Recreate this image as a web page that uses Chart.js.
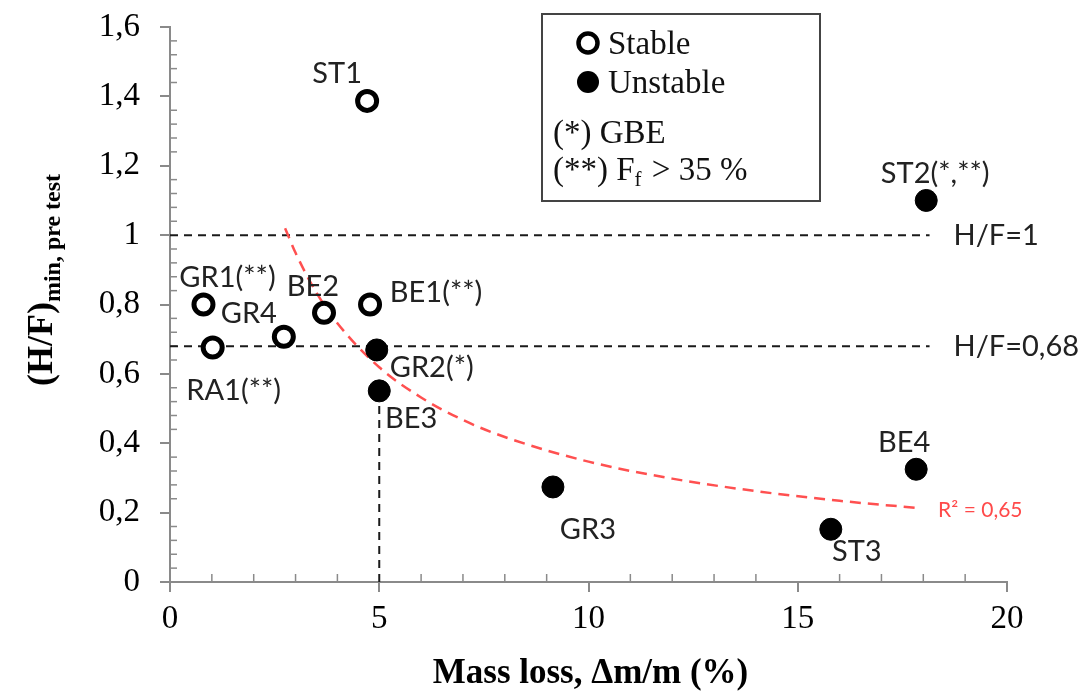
<!DOCTYPE html>
<html>
<head>
<meta charset="utf-8">
<script src="https://cdn.jsdelivr.net/npm/chart.js@4.4.0/dist/chart.umd.min.js"></script>
<style>
  html, body { margin: 0; padding: 0; background: #fff; }
</style>
</head>
<body>
<canvas id="chart" width="1079" height="697"></canvas>
<script>
// stable specimens (open circles)
const stableNames = ['ST1', 'GR1(**)', 'GR4', 'BE2', 'BE1(**)', 'RA1(**)'];
const stableMassLoss = [4.71, 0.80, 2.72, 3.68, 4.78, 1.02];
const stableHF = [1.387, 0.800, 0.707, 0.776, 0.800, 0.676];

// unstable specimens (filled circles)
const unstableNames = ['ST2(*,**)', 'GR2(*)', 'BE3', 'GR3', 'BE4', 'ST3'];
const unstableMassLoss = [18.07, 4.94, 5.00, 9.15, 17.83, 15.79];
const unstableHF = [1.100, 0.669, 0.551, 0.274, 0.325, 0.152];

// red dashed trend curve
const trendMassLoss = [2.75, 3, 3.5, 4, 5, 6, 7, 8, 10, 12, 14, 16, 17.9];
const trendHF = [1.02, 0.949, 0.834, 0.746, 0.619, 0.532, 0.467, 0.418, 0.347, 0.298, 0.262, 0.234, 0.213];
const trendLabel = 'R² = 0,65';

// reference lines
const hfLevels = [1, 0.68];
const hfLabels = ['H/F=1', 'H/F=0,68'];
const hfLineEnd = 18.15;
const massLossLimit = 5;

const yTickLabels = ['0', '0,2', '0,4', '0,6', '0,8', '1', '1,2', '1,4', '1,6'];

// label offsets (px) from each marker
const labelOffsets = {
  'ST1': [-30, -27], 'GR1(**)': [24, -27], 'GR4': [-35, -23], 'BE2': [-11, -26],
  'BE1(**)': [66, -12], 'RA1(**)': [21, 43], 'ST2(*,**)': [9, -27], 'GR2(*)': [55, 18],
  'BE3': [32, 28], 'GR3': [35, 43], 'BE4': [-12, -27], 'ST3': [26, 22]
};

const toPoints = (xs, ys) => xs.map((x, i) => ({ x: x, y: ys[i] }));
const AXIS = '#8a8a8a';
const SERIF = '"Liberation Serif", "Times New Roman", serif';
const SANS = 'Lato, "Open Sans", sans-serif';

const dashLine = (pts) => ({
  type: 'line', data: pts, borderColor: '#1a1a1a', borderWidth: 2, borderDash: [8, 6],
  pointRadius: 0, fill: false, order: 3
});

const datasets = [
  {
    type: 'scatter', label: 'Stable', names: stableNames,
    data: toPoints(stableMassLoss, stableHF),
    pointRadius: 9.5, borderWidth: 5, borderColor: '#000', backgroundColor: '#fff', order: 0
  },
  {
    type: 'scatter', label: 'Unstable', names: unstableNames,
    data: toPoints(unstableMassLoss, unstableHF),
    pointRadius: 11, borderWidth: 1, borderColor: '#000', backgroundColor: '#000', order: 0
  },
  {
    type: 'line', label: 'trend', data: toPoints(trendMassLoss, trendHF),
    borderColor: '#ff5050', borderWidth: 2.5, borderDash: [11, 7], pointRadius: 0,
    cubicInterpolationMode: 'monotone', fill: false, order: 2
  }
];
hfLevels.forEach(lvl => datasets.push(dashLine([{ x: 0, y: lvl }, { x: hfLineEnd, y: lvl }])));
datasets.push(dashLine([{ x: massLossLimit, y: 0 }, { x: massLossLimit, y: unstableHF[2] }]));

const extras = {
  id: 'extras',
  beforeDatasetsDraw(chart) {
    const ctx = chart.ctx;
    const xs = chart.scales.x, ys = chart.scales.y;
    ctx.save();
    ctx.strokeStyle = AXIS;
    ctx.lineWidth = 1.5;
    // minor ticks inside the plot
    for (let v = 1; v < 20; v++) {
      if (v % 5 === 0) continue;
      const px = xs.getPixelForValue(v);
      ctx.beginPath();
      ctx.moveTo(px, ys.bottom);
      ctx.lineTo(px, ys.bottom - 8);
      ctx.stroke();
    }
    for (let k = 1; k < 40; k++) {
      if (k % 5 === 0) continue;
      const py = ys.getPixelForValue(k * 0.04);
      ctx.beginPath();
      ctx.moveTo(xs.left, py);
      ctx.lineTo(xs.left + 7, py);
      ctx.stroke();
    }
    ctx.restore();
  },
  afterDatasetsDraw(chart) {
    const ctx = chart.ctx;
    const xs = chart.scales.x, ys = chart.scales.y;
    ctx.save();
    ctx.fillStyle = '#222';
    ctx.font = '29px ' + SANS;
    ctx.textAlign = 'center';
    ctx.textBaseline = 'middle';
    [0, 1].forEach(di => {
      const ds = chart.data.datasets[di];
      chart.getDatasetMeta(di).data.forEach((el, i) => {
        const name = ds.names[i];
        const off = labelOffsets[name] || [0, -25];
        ctx.fillText(name, el.x + off[0], el.y + off[1]);
      });
    });
    // reference line labels
    ctx.textAlign = 'left';
    hfLevels.forEach((lvl, i) => {
      ctx.fillText(hfLabels[i], xs.getPixelForValue(hfLineEnd) + 24, ys.getPixelForValue(lvl) + 1);
    });
    // trend label
    ctx.fillStyle = '#ff4a4a';
    ctx.font = '21px ' + SANS;
    const last = trendMassLoss.length - 1;
    ctx.fillText(trendLabel, xs.getPixelForValue(trendMassLoss[last]) + 19,
      ys.getPixelForValue(trendHF[last]) + 2);
    ctx.restore();
  },
  afterDraw(chart) {
    const ctx = chart.ctx;
    const ca = chart.chartArea;
    ctx.save();
    ctx.fillStyle = '#000';
    // x axis title
    ctx.font = 'bold 35px ' + SERIF;
    ctx.textAlign = 'center';
    ctx.textBaseline = 'middle';
    ctx.fillText('Mass loss, \u0394m/m (%)', (ca.left + ca.right) / 2 + 2, 674);
    // y axis title with subscript
    ctx.translate(40, 280);
    ctx.rotate(-Math.PI / 2);
    ctx.textAlign = 'left';
    ctx.textBaseline = 'alphabetic';
    const main = '(H/F)', sub = 'min, pre test';
    ctx.font = 'bold 36px ' + SERIF;
    const wMain = ctx.measureText(main).width;
    ctx.font = 'bold 24px ' + SERIF;
    const wSub = ctx.measureText(sub).width;
    const start = -(wMain + wSub) / 2;
    ctx.font = 'bold 36px ' + SERIF;
    ctx.fillText(main, start, 12);
    ctx.font = 'bold 24px ' + SERIF;
    ctx.fillText(sub, start + wMain, 20);
    ctx.restore();

    // legend box
    ctx.save();
    ctx.strokeStyle = '#444';
    ctx.lineWidth = 2;
    ctx.strokeRect(542, 14, 278, 187);
    ctx.beginPath();
    ctx.arc(588, 43, 9.5, 0, Math.PI * 2);
    ctx.fillStyle = '#fff';
    ctx.fill();
    ctx.lineWidth = 4.5;
    ctx.strokeStyle = '#000';
    ctx.stroke();
    ctx.beginPath();
    ctx.arc(588, 82, 11, 0, Math.PI * 2);
    ctx.fillStyle = '#000';
    ctx.fill();
    ctx.font = '33px ' + SERIF;
    ctx.textAlign = 'left';
    ctx.textBaseline = 'middle';
    ctx.fillStyle = '#111';
    ctx.fillText('Stable', 608, 45);
    ctx.fillText('Unstable', 608, 84);
    ctx.fillText('(*) GBE', 553, 134);
    let x = 553;
    ctx.fillText('(**) F', x, 171);
    x += ctx.measureText('(**) F').width;
    ctx.font = '21px ' + SERIF;
    ctx.fillText('f', x, 180);
    x += ctx.measureText('f').width + 2;
    ctx.font = '33px ' + SERIF;
    ctx.fillText(' > 35 %', x, 171);
    ctx.restore();
  }
};

new Chart(document.getElementById('chart'), {
  data: { datasets: datasets },
  options: {
    responsive: false,
    animation: false,
    layout: { padding: { top: 0, right: 72, left: 0, bottom: 0 } },
    plugins: { legend: { display: false }, tooltip: { enabled: false } },
    scales: {
      x: {
        type: 'linear', min: 0, max: 20,
        afterFit: s => { s.height = 115; },
        ticks: { stepSize: 5, color: '#000', padding: 8, font: { family: SERIF, size: 33 } },
        grid: { drawOnChartArea: false, color: AXIS, lineWidth: 2, tickLength: 10 },
        border: { display: true, color: AXIS, width: 2 }
      },
      y: {
        type: 'linear', min: 0, max: 1.6,
        afterFit: s => { s.width = 170; s.paddingTop = 27; s.paddingBottom = 0; },
        ticks: {
          stepSize: 0.2, color: '#000', padding: 20, font: { family: SERIF, size: 33 },
          callback: (v, i) => yTickLabels[i]
        },
        grid: { drawOnChartArea: false, color: AXIS, lineWidth: 2, tickLength: 10 },
        border: { display: true, color: AXIS, width: 2 }
      }
    }
  },
  plugins: [extras]
});
</script>
</body>
</html>
